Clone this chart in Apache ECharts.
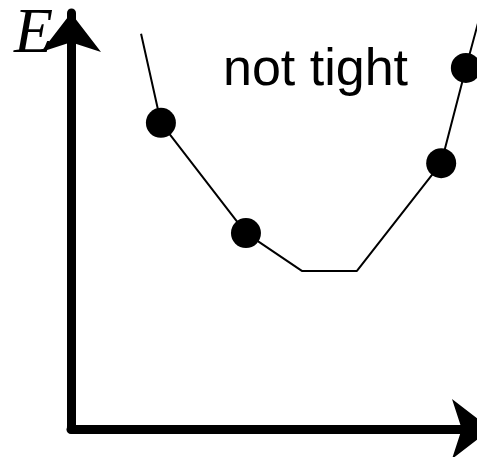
<!DOCTYPE html>
<html>
<head>
<meta charset="utf-8">
<script src="https://cdn.jsdelivr.net/npm/echarts@6/dist/echarts.min.js"></script>
<style>
  html, body { margin: 0; padding: 0; background: #fff; }
  #chart { width: 477px; height: 457px; }
</style>
</head>
<body>
<div id="chart"></div>
<script>
// configuration coordinate (arbitrary units) and energy along the curve
const configX = [17.3, 22.2, 43.2, 57.0, 70.6, 91.4, 97.5, 101.5]
const energy = [95.0, 73.6, 47.1, 38.0, 38.0, 63.9, 86.8, 101.2]
// which points are sampled (drawn as dots)
const sampled = [false, true, true, false, false, true, true, false]

const axisLabelText = 'E'
const noteText = 'not tight'

const curve = configX.map((x, i) => [x, energy[i]])
const dots = curve.filter((p, i) => sampled[i])

const chart = echarts.init(document.getElementById('chart'))

const makeAxis = (endOffset) => ({
  type: 'value',
  min: 0,
  max: 100,
  z: 5,
  axisLine: {
    show: true,
    onZero: false,
    symbol: ['none', 'arrow'],
    symbolSize: [45, 39],
    symbolOffset: [0, endOffset],
    lineStyle: { color: '#000', width: 9 }
  },
  axisTick: { show: false },
  axisLabel: { show: false },
  splitLine: { show: false }
})

chart.setOption({
  backgroundColor: '#fff',
  animation: false,
  title: [
    {
      text: axisLabelText,
      left: 9,
      top: -2,
      z: 1,
      textStyle: {
        fontFamily: 'Liberation Serif',
        fontStyle: 'italic',
        fontWeight: 'normal',
        fontSize: 64,
        color: '#000'
      }
    },
    {
      text: noteText,
      left: 218,
      top: 40,
      z: 1,
      textStyle: {
        fontFamily: 'Liberation Sans',
        fontWeight: 'normal',
        fontSize: 52,
        color: '#000'
      }
    }
  ],
  grid: { left: 71, right: 1, top: 13, bottom: 28 },
  xAxis: makeAxis(15),
  yAxis: makeAxis(0),
  series: [
    {
      type: 'line',
      data: curve,
      clip: false,
      symbol: 'none',
      lineStyle: { color: '#000', width: 2 },
      z: 3
    },
    {
      type: 'scatter',
      data: dots,
      symbol: 'circle',
      symbolSize: 30,
      itemStyle: { color: '#000', opacity: 1 },
      z: 4
    }
  ]
})
</script>
</body>
</html>
